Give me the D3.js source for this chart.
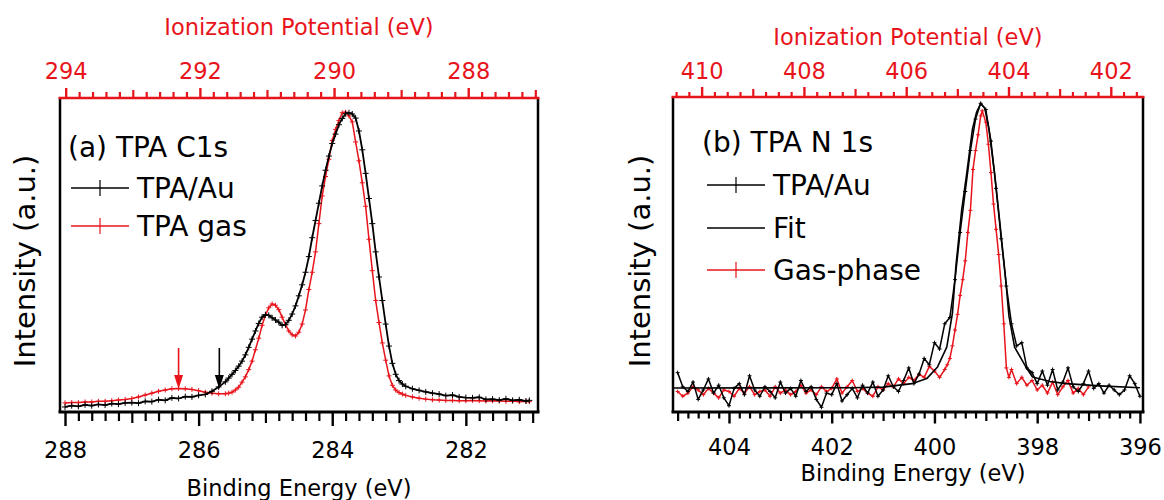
<!DOCTYPE html>
<html>
<head>
<meta charset="utf-8">
<script src="https://cdn.jsdelivr.net/npm/d3@7"></script>
<style>
  body { margin: 0; background: #fff; }
  svg { display: block; }
  text { font-family: "DejaVu Sans", sans-serif; }
</style>
</head>
<body>
<svg id="chart" width="1164" height="500"></svg>
<script>
// ---- data: panel (a) TPA C1s ----
var c1sBE = [288.0, 287.9, 287.8, 287.7, 287.6, 287.5, 287.4, 287.3, 287.2, 287.1, 287.0, 286.9, 286.8, 286.7, 286.6, 286.5, 286.4, 286.3, 286.2, 286.1, 286.0, 285.9, 285.8, 285.7, 285.6,
  285.55, 285.5, 285.45, 285.4, 285.35, 285.3, 285.25, 285.2, 285.15, 285.1, 285.05, 285.0, 284.95, 284.9, 284.85, 284.8, 284.75, 284.7, 284.65, 284.6, 284.55, 284.5,
  284.45, 284.4, 284.35, 284.3, 284.25, 284.2, 284.15, 284.1, 284.05, 284.0, 283.95, 283.9, 283.85, 283.8, 283.75, 283.7, 283.65, 283.6, 283.55, 283.5,
  283.45, 283.4, 283.35, 283.3, 283.25, 283.2, 283.15, 283.1, 283.05, 283.0, 282.95, 282.9, 282.8, 282.7, 282.6, 282.5, 282.4, 282.3, 282.2, 282.1, 282.0,
  281.9, 281.8, 281.7, 281.6, 281.5, 281.4, 281.3, 281.2, 281.1, 281.05];
var c1sAu = [1.6, 2.0, 1.8, 2.3, 2.0, 2.4, 2.2, 2.7, 2.5, 2.9, 3.0, 2.8, 3.4, 3.3, 3.9, 3.7, 4.5, 4.3, 4.9, 4.8, 5.3, 5.6, 6.6, 8.0, 9.6,
  10.8, 12.0, 13.2, 14.6, 16.2, 18.2, 20.6, 23.2, 25.8, 28.2, 30.2, 31.0, 30.8, 30.0, 29.3, 28.6, 27.6, 27.8, 29.2, 31.2, 33.8, 37.0,
  40.5, 44.5, 49.5, 55.5, 61.0, 66.5, 72.0, 77.0, 81.5, 85.5, 88.5, 91.5, 93.5, 95.0, 95.3, 94.9, 93.6, 89.5, 83.5, 76.0,
  68.0, 60.0, 51.0, 43.0, 35.5, 28.0, 21.0, 15.5, 12.0, 10.0, 8.9, 8.2, 7.4, 6.9, 6.4, 6.0, 5.7, 5.2, 5.4, 4.8, 4.6,
  4.5, 4.7, 4.0, 4.1, 3.8, 4.2, 3.7, 3.9, 3.5, 3.7];
var c1sGas = [2.9, 3.0, 3.0, 3.2, 3.2, 3.4, 3.4, 3.6, 3.8, 4.0, 4.3, 4.8, 5.4, 6.0, 6.6, 7.0, 7.4, 7.5, 7.4, 7.2, 6.8, 6.3, 6.0, 5.8, 5.8,
  6.0, 6.3, 7.0, 7.9, 9.5, 11.2, 13.5, 16.2, 19.8, 23.5, 27.6, 30.8, 33.2, 34.4, 34.0, 32.6, 30.2, 27.8, 25.8, 24.6, 24.2, 25.4,
  28.0, 32.5, 39.0, 44.5, 51.0, 60.0, 68.8, 75.0, 80.5, 86.5, 90.0, 92.8, 95.3, 95.5, 94.3, 92.4, 86.0, 80.0, 73.0, 65.5,
  55.0, 45.0, 35.5, 28.5, 22.0, 16.5, 11.5, 8.5, 7.0, 6.2, 5.7, 5.3, 4.8, 4.4, 4.1, 3.9, 3.8, 3.7, 3.7, 3.6, 3.6,
  3.7, 3.6, 3.5, 3.6, 3.5, 3.4, 3.5, 3.3, 3.4, 3.3];
var c1sArrows = [{be: 286.3, top: 20.4, tip: 7.3, color: "red"}, {be: 285.69, top: 20.4, tip: 7.3, color: "black"}];

// ---- data: panel (b) TPA N 1s ----
var n1sBE = [405.0, 404.9, 404.8, 404.7, 404.6, 404.5, 404.4, 404.3, 404.2, 404.1, 404.0, 403.9, 403.8, 403.7, 403.6, 403.5, 403.4, 403.3, 403.2, 403.1,
  403.0, 402.9, 402.8, 402.7, 402.6, 402.5, 402.4, 402.3, 402.2, 402.1, 402.0, 401.9, 401.8, 401.7, 401.6, 401.5, 401.4, 401.3, 401.2, 401.1,
  401.0, 400.9, 400.8, 400.7, 400.6, 400.5, 400.4, 400.3, 400.2, 400.1, 400.0, 399.9, 399.8, 399.7, 399.6, 399.5, 399.4, 399.3, 399.2, 399.1,
  399.0, 398.9, 398.8, 398.7, 398.6, 398.5, 398.4, 398.3, 398.2, 398.1, 398.0, 397.9, 397.8, 397.7, 397.6, 397.5, 397.4, 397.3, 397.2, 397.1,
  397.0, 396.9, 396.8, 396.7, 396.6, 396.5, 396.4, 396.3, 396.2, 396.1, 396.0];
var n1sAu = [12.5, 8.0, 6.5, 9.5, 4.0, 7.0, 10.5, 6.0, 8.5, 4.5, 2.0, 7.5, 9.0, 5.5, 11.5, 7.0, 5.0, 8.0, 6.5, 4.5,
  9.5, 6.0, 7.5, 5.0, 10.0, 6.5, 8.0, 4.0, 1.5, 6.0, 5.5, 9.0, 3.5, 5.5, 7.5, 4.5, 8.5, 6.0, 9.5, 5.0,
  7.0, 11.5, 8.0, 6.5, 10.0, 14.0, 9.0, 12.0, 17.0, 15.0, 22.0, 20.0, 28.0, 30.0, 42.0, 57.0, 70.0, 83.0, 93.0, 98.0,
  96.0, 86.0, 71.0, 55.0, 40.0, 28.0, 21.0, 22.0, 14.0, 12.5, 9.0, 13.0, 8.5, 13.5, 7.0, 9.5, 14.0, 8.0, 6.5, 9.0,
  13.0, 7.5, 9.0, 6.0, 8.5, 7.0, 5.5, 7.0, 11.5, 9.0, 5.0];
var fitBE = [405.1, 401.65, 401.0, 400.44, 400.15, 399.94, 399.76, 399.65, 399.58, 399.47, 399.37, 399.26, 399.18, 399.1, 399.02, 398.94,
  398.83, 398.73, 398.62, 398.55, 398.44, 398.22, 398.09, 397.75, 397.44, 396.78, 396.0];
var fitI = [7.6, 7.7, 7.9, 9.0, 10.6, 14.3, 20.6, 31.4, 46.7, 64.1, 75.9, 89.8, 95.2, 97.9, 96.5, 89.8,
  75.9, 60.6, 43.2, 30.5, 20.6, 14.3, 11.1, 9.7, 9.0, 8.3, 7.7];
var gasBE = [405.0, 404.9, 404.8, 404.7, 404.6, 404.5, 404.4, 404.3, 404.2, 404.1, 404.0, 403.9, 403.8, 403.7, 403.6, 403.5, 403.4, 403.3, 403.2, 403.1,
  403.0, 402.9, 402.8, 402.7, 402.6, 402.5, 402.4, 402.3, 402.2, 402.1, 402.0, 401.9, 401.8, 401.7, 401.6, 401.5, 401.4, 401.3, 401.2, 401.1,
  401.0, 400.9, 400.8, 400.7, 400.6, 400.5, 400.4, 400.3, 400.2, 400.1, 400.0, 399.9, 399.8, 399.75, 399.7, 399.65, 399.6, 399.55, 399.5, 399.45,
  399.4, 399.35, 399.3, 399.25, 399.2, 399.15, 399.1, 399.07, 399.0, 398.95, 398.9, 398.85, 398.8, 398.75, 398.7, 398.65, 398.6, 398.55, 398.5,
  398.4, 398.3, 398.2, 398.1, 398.0, 397.9, 397.8, 397.7, 397.6, 397.5, 397.4, 397.3, 397.2, 397.1, 397.0];
var gasI = [6.5, 5.0, 6.0, 8.0, 7.0, 5.5, 7.5, 6.0, 4.5, 7.0, 6.5, 5.0, 7.5, 6.0, 8.0, 5.5, 6.5, 7.0, 5.0, 8.0,
  6.0, 7.0, 5.5, 6.5, 8.5, 6.0, 7.0, 5.5, 8.0, 6.5, 7.5, 10.5, 6.0, 8.0, 10.0, 6.5, 7.5, 6.0, 5.0, 8.0,
  7.0, 9.0, 8.0, 10.5, 9.0, 11.0, 10.0, 12.0, 11.0, 14.5, 13.0, 11.0, 13.5, 15.0, 17.0, 21.0, 26.0, 31.0, 37.0, 42.0,
  48.0, 57.0, 64.0, 77.0, 83.0, 88.0, 94.0, 95.6, 92.0, 85.0, 76.0, 66.0, 58.0, 50.0, 40.0, 28.0, 14.0, 11.0, 13.5,
  9.0, 11.0, 8.5, 10.0, 7.0, 8.5, 6.0, 9.5, 5.5, 8.0, 10.0, 6.0, 7.5, 5.5, 8.0];

// tick labels
var aBottomLabels = [288, 286, 284, 282];
var aTopLabels = [294, 292, 290, 288];
var bBottomLabels = [404, 402, 400, 398, 396];
var bTopLabels = [410, 408, 406, 404, 402];

var RED = "#e8141c";
var svg = d3.select("#chart");

function zip(xs, ys) { return xs.map((x, i) => ({x: x, y: ys[i]})); }

function frame(g, box) {
  g.append("line").attr("x1", box.l).attr("x2", box.l).attr("y1", box.t).attr("y2", box.b)
    .attr("stroke", "#000").attr("stroke-width", 2.5);
  g.append("line").attr("x1", box.r).attr("x2", box.r).attr("y1", box.t).attr("y2", box.b)
    .attr("stroke", "#000").attr("stroke-width", 2.5);
  g.append("line").attr("x1", box.l - 1.5).attr("x2", box.r + 1.5).attr("y1", box.b).attr("y2", box.b)
    .attr("stroke", "#000").attr("stroke-width", 3);
  g.append("line").attr("x1", box.l - 1.5).attr("x2", box.r + 1.5).attr("y1", box.t).attr("y2", box.t)
    .attr("stroke", RED).attr("stroke-width", 2.5);
}

function ticks(g, scale, step, lo, hi, axisGen, y, lens, labels, color, pad, fs) {
  var all = d3.range(Math.round(lo / step), Math.round(hi / step) + 1).map(k => +(k * step).toFixed(2));
  var minor = all.filter(v => Math.abs(v - Math.round(v)) > 1e-6);
  var odd = all.filter(v => Math.abs(v - Math.round(v)) < 1e-6 && labels.indexOf(Math.round(v)) < 0);
  [[minor, lens[0]], [odd, lens[1]]].forEach(function(p) {
    g.append("g").attr("transform", "translate(0," + y + ")")
      .call(axisGen(scale).tickValues(p[0]).tickSize(p[1]).tickFormat(""))
      .call(s => s.select(".domain").remove())
      .selectAll("line").attr("stroke", color).attr("stroke-width", 2.2);
  });
  var ax = g.append("g").attr("transform", "translate(0," + y + ")")
    .call(axisGen(scale).tickValues(labels).tickSize(lens[2]).tickPadding(pad).tickFormat(d3.format("d")));
  ax.select(".domain").remove();
  ax.selectAll("line").attr("stroke", color).attr("stroke-width", 2.4);
  ax.selectAll("text").attr("fill", color).style("font-size", fs + "px")
    .style("font-family", "'DejaVu Sans', sans-serif");
}

function plusPath(pts, x, y, s) {
  return pts.map(p => "M" + (x(p.x) - s) + "," + y(p.y) + "h" + (2 * s) + "M" + x(p.x) + "," + (y(p.y) - s) + "v" + (2 * s)).join("");
}

function series(g, pts, x, y, color, width, marker) {
  var line = d3.line().x(d => x(d.x)).y(d => y(d.y));
  g.append("path").datum(pts).attr("d", line).attr("fill", "none")
    .attr("stroke", color).attr("stroke-width", width).attr("stroke-linejoin", "round");
  if (marker) {
    g.append("path").attr("d", plusPath(pts, x, y, marker)).attr("fill", "none")
      .attr("stroke", color).attr("stroke-width", 1);
  }
}

function legendItem(g, x0, y0, color, marker, label, fs) {
  g.append("line").attr("x1", x0).attr("x2", x0 + 58).attr("y1", y0).attr("y2", y0)
    .attr("stroke", color).attr("stroke-width", 1.5);
  if (marker) {
    g.append("line").attr("x1", x0 + 29).attr("x2", x0 + 29).attr("y1", y0 - 8).attr("y2", y0 + 8)
      .attr("stroke", color).attr("stroke-width", 1.2);
  }
  g.append("text").attr("x", x0 + 66).attr("y", y0 + 10).style("font-size", fs + "px").text(label);
}

// ---------------- panel (a) ----------------
var boxA = {l: 60, r: 538, t: 98, b: 412};
var xA = d3.scaleLinear().domain([288.075, 280.92]).range([boxA.l, boxA.r]);
var xAtop = d3.scaleLinear().domain([294.085, 286.96]).range([boxA.l, boxA.r]);
var yA = d3.scaleLinear().domain([0, 100]).range([boxA.b, boxA.t]);
var gA = svg.append("g");

series(gA, zip(c1sBE, c1sGas), xA, yA, RED, 1.5, 2.5);
series(gA, zip(c1sBE, c1sAu), xA, yA, "#000", 1.8, 3);

c1sArrows.forEach(function(a) {
  var ax = xA(a.be), y1 = yA(a.top), y2 = yA(a.tip);
  gA.append("line").attr("x1", ax).attr("x2", ax).attr("y1", y1).attr("y2", y2 - 12)
    .attr("stroke", a.color === "red" ? RED : "#000").attr("stroke-width", 1.6);
  gA.append("path").attr("d", "M" + (ax - 4.5) + "," + (y2 - 14) + "L" + (ax + 4.5) + "," + (y2 - 14) + "L" + ax + "," + y2 + "Z")
    .attr("fill", a.color === "red" ? RED : "#000");
});

frame(gA, boxA);
ticks(gA, xA, 0.2, 281, 288, d3.axisBottom, boxA.b, [9, 11, 14], aBottomLabels, "#000", 16, 22.5);
ticks(gA, xAtop, 0.2, 287, 294, d3.axisTop, boxA.t, [6, 8, 10], aTopLabels, RED, 9, 22.5);

gA.append("text").attr("x", 299).attr("y", 35).attr("text-anchor", "middle")
  .attr("fill", RED).style("font-size", "22.5px").text("Ionization Potential (eV)");
gA.append("text").attr("x", 299).attr("y", 496).attr("text-anchor", "middle")
  .style("font-size", "22.5px").text("Binding Energy (eV)");
gA.append("text").attr("transform", "translate(35,261) rotate(-90)").attr("text-anchor", "middle")
  .style("font-size", "29px").text("Intensity (a.u.)");

gA.append("text").attr("x", 68).attr("y", 157).style("font-size", "28px").text("(a) TPA C1s");
legendItem(gA, 71, 188, "#000", true, "TPA/Au", 28);
legendItem(gA, 71, 226, RED, true, "TPA gas", 28);

// ---------------- panel (b) ----------------
var boxB = {l: 673, r: 1143, t: 97, b: 412};
var xB = d3.scaleLinear().domain([405.09, 395.94]).range([boxB.l, boxB.r]);
var xBtop = d3.scaleLinear().domain([410.56, 401.37]).range([boxB.l, boxB.r]);
var yB = d3.scaleLinear().domain([0, 100]).range([boxB.b, boxB.t]);
var gB = svg.append("g");

series(gB, zip(gasBE, gasI), xB, yB, RED, 1.5, 2);
series(gB, zip(n1sBE, n1sAu), xB, yB, "#000", 1.5, 2);
series(gB, zip(fitBE, fitI).map(d => d), xB, yB, "#000", 1.6, 0);

frame(gB, boxB);
ticks(gB, xB, 0.2, 396, 405, d3.axisBottom, boxB.b, [6.5, 9, 11.5], bBottomLabels, "#000", 15.5, 22.5);
ticks(gB, xBtop, 0.25, 401.5, 410.5, d3.axisTop, boxB.t, [5, 8, 10], bTopLabels, RED, 8.5, 22.5);

gB.append("text").attr("x", 908).attr("y", 45).attr("text-anchor", "middle")
  .attr("fill", RED).style("font-size", "22.5px").text("Ionization Potential (eV)");
gB.append("text").attr("x", 913).attr("y", 481).attr("text-anchor", "middle")
  .style("font-size", "22.5px").text("Binding Energy (eV)");
gB.append("text").attr("transform", "translate(650,261) rotate(-90)").attr("text-anchor", "middle")
  .style("font-size", "29px").text("Intensity (a.u.)");

gB.append("text").attr("x", 702).attr("y", 152).style("font-size", "28px").text("(b) TPA N 1s");
legendItem(gB, 707, 185, "#000", true, "TPA/Au", 28);
legendItem(gB, 707, 228, "#000", false, "Fit", 28);
legendItem(gB, 707, 270, RED, true, "Gas-phase", 28);
</script>
</body>
</html>
